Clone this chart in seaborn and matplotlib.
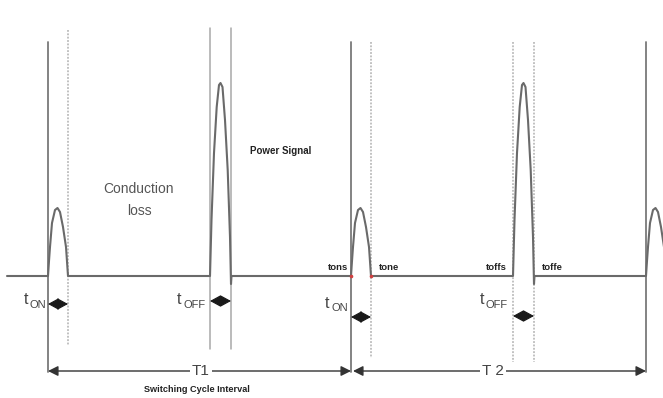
import matplotlib
matplotlib.use("Agg")
import matplotlib.pyplot as plt
import numpy as np
import pandas as pd
import seaborn as sns

# ---------------- data ----------------
pulse_starts = [48, 210, 351, 513, 646]          # time at which each switching pulse begins
pulse_kinds = ["on", "off", "on", "off", "on"]     # turn-on or turn-off transition
on_dx = [0, 1, 2, 4, 7, 9.5, 12, 15, 18, 20]      # turn-on pulse profile: time offset
on_h = [0, 15, 29, 53, 66, 68, 64, 49, 29, 0]     # turn-on pulse profile: power
off_dx = [0, 1.5, 4, 6.7, 9, 10.5, 12.5, 15, 17.7, 20, 21, 21.5]
off_h = [0, 56, 123, 169, 191, 193, 189, 156, 106, 39, -8, 0]
on_width = 20
off_width = 21
signal_start = 7
period_labels = ["T1", "T 2"]
period_from = [48, 353]
period_to = [351, 646]
interval_subs = ["ON", "OFF", "ON", "OFF"]
edge_labels = ["tons", "tone", "toffs", "toffe"]

# ---------------- build the signal table ----------------
xs, ys = [signal_start], [0]
for s, k in zip(pulse_starts, pulse_kinds):
    dx, h = (on_dx, on_h) if k == "on" else (off_dx, off_h)
    xs += [s + d for d in dx]
    ys += list(h)
signal = pd.DataFrame({"time": xs, "power": ys})

# ---------------- figure ----------------
sns.set_style("white")
W, H = 663, 398
fig = plt.figure(figsize=(W / 100, H / 100), dpi=100)
ax = fig.add_axes([0, 0, 1, 1])
BASE = 276  # pixel row of the zero-power baseline


def py(p):
    """pixel row -> data y"""
    return BASE - p


narrow = ["Liberation Sans Narrow", "Liberation Sans", "DejaVu Sans"]
arial = ["Liberation Sans", "DejaVu Sans"]

# guide lines at pulse edges
ends = [s + (on_width if k == "on" else off_width) for s, k in zip(pulse_starts, pulse_kinds)]
guide_specs = []
tops_start = [42, 28, 42, 42, 42]
tops_end = [30, 28, 42, 42, None]
bot_start = [372, 349, 372, 362, 372]
bot_end = [345, 349, 358, 362, None]
style_start = ["solid", "light", "solid", "dotted", "solid"]
style_end = ["dotted", "light", "dotted", "dotted", None]
for i, (s, e) in enumerate(zip(pulse_starts, ends)):
    guide_specs.append((s, tops_start[i], bot_start[i], style_start[i]))
    if tops_end[i] is not None:
        guide_specs.append((e, tops_end[i], bot_end[i], style_end[i]))
for x, t, b, st in guide_specs:
    if st == "solid":
        ax.plot([x, x], [py(t), py(b)], color="#7a7a7a", lw=1.3, zorder=1)
    elif st == "light":
        ax.plot([x, x], [py(t), py(b)], color="#a8a8a8", lw=1.1, zorder=1)
    else:
        ax.plot([x, x], [py(t), py(b)], color="#b0b0b0", lw=1.1,
                linestyle=(0, (1.2, 1.0)), zorder=1)

# power signal
sns.lineplot(data=signal, x="time", y="power", ax=ax, sort=False,
             color="#6a6a6a", lw=1.5, zorder=3, estimator=None)
ax.set_xlim(0, W)
ax.set_ylim(BASE - H, BASE)
ax.axis("off")

# little red marks at the tons / tone edges
ax.plot([pulse_starts[2], ends[2]], [0, 0], ls="none", marker="o", ms=1.6,
        color="#d04040", zorder=4)

# texts
ax.text(139, py(189), "Conduction", ha="center", va="center", fontsize=10,
        family=narrow, color="#555555")
ax.text(139, py(211), "loss", ha="center", va="center", fontsize=10,
        family=narrow, color="#555555")
ax.text(250, py(151), "Power Signal", ha="left", va="center", fontsize=7,
        fontweight="bold", family=arial, color="#222222")

edge_x = [348, 379, 507, 542]
edge_ha = ["right", "left", "right", "left"]
for lab, x, ha in zip(edge_labels, edge_x, edge_ha):
    ax.text(x, py(267), lab, ha=ha, va="center", fontsize=6.8, fontweight="bold",
            family=arial, color="#222222")

# t_ON / t_OFF labels with double arrows
t_x = [24, 177, 325, 480]
t_y = [300, 300, 303, 300]
arrow_y = [304, 301, 317, 316]
interval_pairs = [(pulse_starts[i], ends[i]) for i in range(4)]
for sub, tx, ty, ay, (a, b) in zip(interval_subs, t_x, t_y, arrow_y, interval_pairs):
    ax.text(tx, py(ty), "t", ha="left", va="center", fontsize=11.5, family=narrow,
            color="#444444")
    ax.text(tx + 6, py(ty + 5), sub, ha="left", va="center", fontsize=8,
            family=narrow, color="#444444")
    ax.annotate("", xy=(b, py(ay)), xytext=(a, py(ay)),
                arrowprops=dict(arrowstyle="<|-|>,head_length=0.55,head_width=0.3",
                                color="#1a1a1a", lw=0.8,
                                mutation_scale=12, shrinkA=0, shrinkB=0))

# switching-cycle period arrows
label_x = [201, 493]
for lab, a, b, lx in zip(period_labels, period_from, period_to, label_x):
    ax.annotate("", xy=(b, py(371)), xytext=(a, py(371)),
                arrowprops=dict(arrowstyle="<|-|>,head_length=0.5,head_width=0.25",
                                color="#333333", lw=1.0,
                                mutation_scale=12, shrinkA=0, shrinkB=0))
    ax.text(lx, py(371), lab, ha="center", va="center", fontsize=11, family=narrow,
            color="#444444",
            bbox=dict(boxstyle="square,pad=0.15", fc="white", ec="none"))

ax.text(197, py(390), "Switching Cycle Interval", ha="center", va="center",
        fontsize=6.6, fontweight="bold", family=arial, color="#222222")

fig.savefig("out.png", dpi=100, facecolor="white")
